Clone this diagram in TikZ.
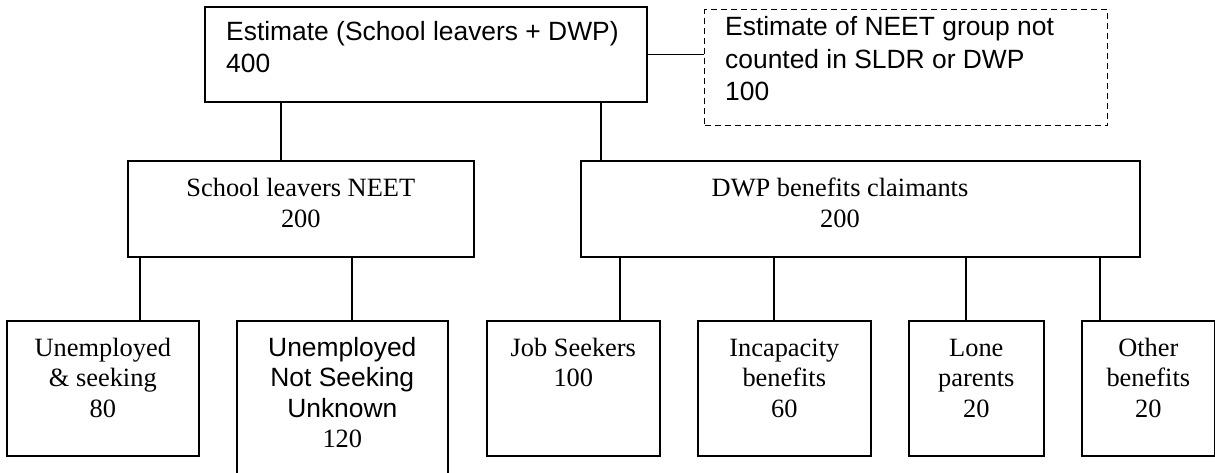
\documentclass[tikz,border=0pt]{standalone}
\usepackage{fontspec}
\setmainfont{Liberation Serif}
\newfontfamily\arialfont{Liberation Sans}

\tikzset{
  box/.style={draw, line width=1.6pt, inner sep=0pt, anchor=north west},
  dashbox/.style={box, line width=1.4pt, dash pattern=on 6pt off 4pt},
  serif/.style={anchor=base, align=center, inner sep=0pt, font=\fontsize{26.4}{30.5}\selectfont},
  sans/.style={anchor=base west, align=left, inner sep=0pt, font=\arialfont\fontsize{26.4}{32.5}\selectfont},
  link/.style={line width=1.3pt}
}

\begin{document}
\begin{tikzpicture}[x=1pt, y=-1pt]
    \useasboundingbox (0,0) rectangle (1215,472);
    \clip (0,0) rectangle (1215,472);

    % Top level (text nodes sit on the baseline of their last line)
    \node[box, minimum width=442pt, minimum height=95pt] (est) at (204,6) {};
    \node[sans] (est-t) at ([xshift=22pt, yshift=-66.5pt]est.north west) {Estimate (School leavers + DWP)\\400};
    \node[dashbox, minimum width=403pt, minimum height=116pt] (neet) at (704,9) {};
    \node[sans] (neet-t) at ([xshift=21pt, yshift=-91.5pt]neet.north west) {Estimate of NEET group not\\counted in SLDR or DWP\\100};

    % Second level
    \node[box, minimum width=346pt, minimum height=96pt] (sl) at (127,160) {};
    \node[serif] (sl-t) at ([yshift=-67pt]sl.north) {School leavers NEET\\200};
    \node[box, minimum width=559pt, minimum height=96pt] (dwp) at (580,160) {};
    \node[serif] (dwp-t) at ([xshift=260pt, yshift=-67pt]dwp.north west) {DWP benefits claimants\\200};

    % Third level
    \node[box, minimum width=192pt, minimum height=135pt] (us) at (6,320) {};
    \node[serif] (us-t) at ([yshift=-97pt]us.north) {Unemployed\\\& seeking\\80};
    \node[box, minimum width=211pt, minimum height=170pt] (uns) at (236,320) {};
    \node[serif] (uns-t) at ([yshift=-127.5pt]uns.north) {{\arialfont Unemployed}\\{\arialfont Not Seeking}\\{\arialfont Unknown}\\120};
    \node[box, minimum width=173pt, minimum height=135pt] (js) at (486,320) {};
    \node[serif] (js-t) at ([yshift=-66.5pt]js.north) {Job Seekers\\100};
    \node[box, minimum width=173pt, minimum height=135pt] (inc) at (697,320) {};
    \node[serif] (inc-t) at ([yshift=-97pt]inc.north) {Incapacity\\benefits\\60};
    \node[box, minimum width=135pt, minimum height=135pt] (lone) at (908,320) {};
    \node[serif] (lone-t) at ([yshift=-97pt]lone.north) {Lone\\parents\\20};
    \node[box, minimum width=133pt, minimum height=135pt] (oth) at (1081,320) {};
    \node[serif] (oth-t) at ([yshift=-97pt]oth.north) {Other\\benefits\\20};

    % Links
    \draw[link] (est.east) -- (est.east -| neet.west);
    \draw[link] ([xshift=77pt]est.south west) -- ([xshift=77pt]est.south west |- sl.north);
    \draw[link] ([xshift=397pt]est.south west) -- ([xshift=397pt]est.south west |- dwp.north);
    \draw[link] ([xshift=13pt]sl.south west) -- ([xshift=13pt]sl.south west |- us.north);
    \draw[link] ([xshift=225pt]sl.south west) -- ([xshift=225pt]sl.south west |- uns.north);
    \foreach \dx/\kid in {40/js, 194/inc, 386/lone, 520/oth} {
        \draw[link] ([xshift=\dx pt]dwp.south west) -- ([xshift=\dx pt]dwp.south west |- \kid.north);
    }
\end{tikzpicture}
\end{document}
